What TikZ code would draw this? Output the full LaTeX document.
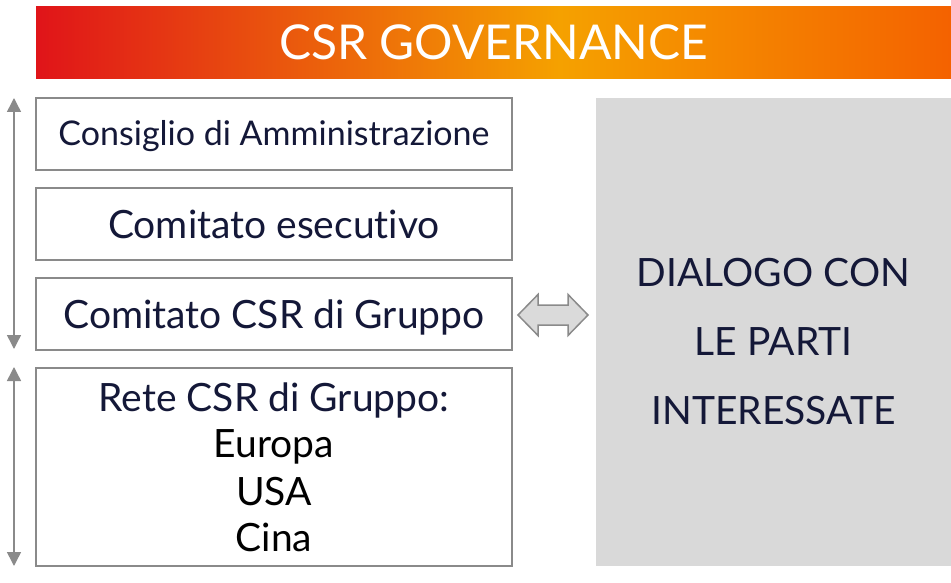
\documentclass[tikz,border=0pt]{standalone}
\usepackage{fontspec}
\setmainfont[Ligatures=NoCommon]{Lato}
\usetikzlibrary{arrows.meta}
\definecolor{navy}{HTML}{141838}
\definecolor{boxgray}{HTML}{8A8A8A}
\definecolor{panelgray}{HTML}{D9D9D9}
\definecolor{arrowfill}{HTML}{DADADA}
\definecolor{hred}{HTML}{E01419}
\definecolor{horange}{HTML}{F5A100}
\definecolor{hright}{HTML}{F46200}
\pgfdeclarehorizontalshading{hdrshade}{100bp}{color(0bp)=(hred); color(25bp)=(hred); color(53.6bp)=(horange); color(75bp)=(hright); color(100bp)=(hright)}
\tikzset{
  lbox/.style={draw=boxgray, line width=1.6pt, fill=white, minimum width=476pt, inner sep=0pt},
  txt/.style={anchor=base, inner sep=0pt, text=navy, font=\fontsize{39}{46}\selectfont},
  smalltxt/.style={txt, font=\fontsize{34}{40}\selectfont},
  blacktxt/.style={txt, text=black},
  sidearrow/.style={draw=boxgray, line width=1.5pt, {Triangle[length=14pt,width=14pt]}-{Triangle[length=14pt,width=14pt]}},
}
\begin{document}
\begin{tikzpicture}[x=1pt,y=-1pt]
\useasboundingbox (0,0) rectangle (951,583);
% header
\node[shading=hdrshade, minimum width=915pt, minimum height=72pt, inner sep=0pt] (hdr) at (493.5,43) {};
\node[anchor=base, inner sep=0pt, text=white, font=\fontsize{48}{56}\selectfont] (hdrtxt) at (493.5,60) {CSR GOVERNANCE};
% boxes
\node[lbox, minimum height=72pt] (b1) at (274,134) {};
\node[lbox, minimum height=72pt] (b2) at (274,224) {};
\node[lbox, minimum height=72pt] (b3) at (274,314) {};
\node[lbox, minimum height=198pt] (b4) at (274,467) {};
\node[fill=panelgray, minimum width=355pt, minimum height=468pt, inner sep=0pt] (panel) at (773.5,332) {};
% texts
\node[smalltxt] (t1) at (274,146) {Consiglio di Amministrazione};
\node[txt] (t2) at (274,238) {Comitato esecutivo};
\node[txt] (t3) at (274,328) {Comitato CSR di Gruppo};
\node[txt] (t4a) at (274,411) {Rete CSR di Gruppo:};
\node[blacktxt] (t4b) at (274,457.5) {Europa};
\node[blacktxt] (t4c) at (274,505) {USA};
\node[blacktxt] (t4d) at (274,551) {Cina};
\node[txt] (p1) at (773.5,286) {DIALOGO CON};
\node[txt] (p2) at (773.5,355) {LE PARTI};
\node[txt] (p3) at (773.5,424) {INTERESSATE};
% side arrows
\coordinate (a1t) at (14,98);
\coordinate (a1b) at (14,349);
\coordinate (a2t) at (14,367);
\coordinate (a2b) at (14,566);
\draw[sidearrow] (a1t) -- (a1b);
\draw[sidearrow] (a2t) -- (a2b);
% double arrow between b3 and panel
\draw[draw=boxgray, fill=arrowfill, line width=1.5pt, line join=miter]
  (518,315) -- (538,294.5) -- (538,305) -- (568,305) -- (568,294.5) -- (588,315)
  -- (568,335.5) -- (568,325) -- (538,325) -- (538,335.5) -- cycle;
\end{tikzpicture}
\end{document}
